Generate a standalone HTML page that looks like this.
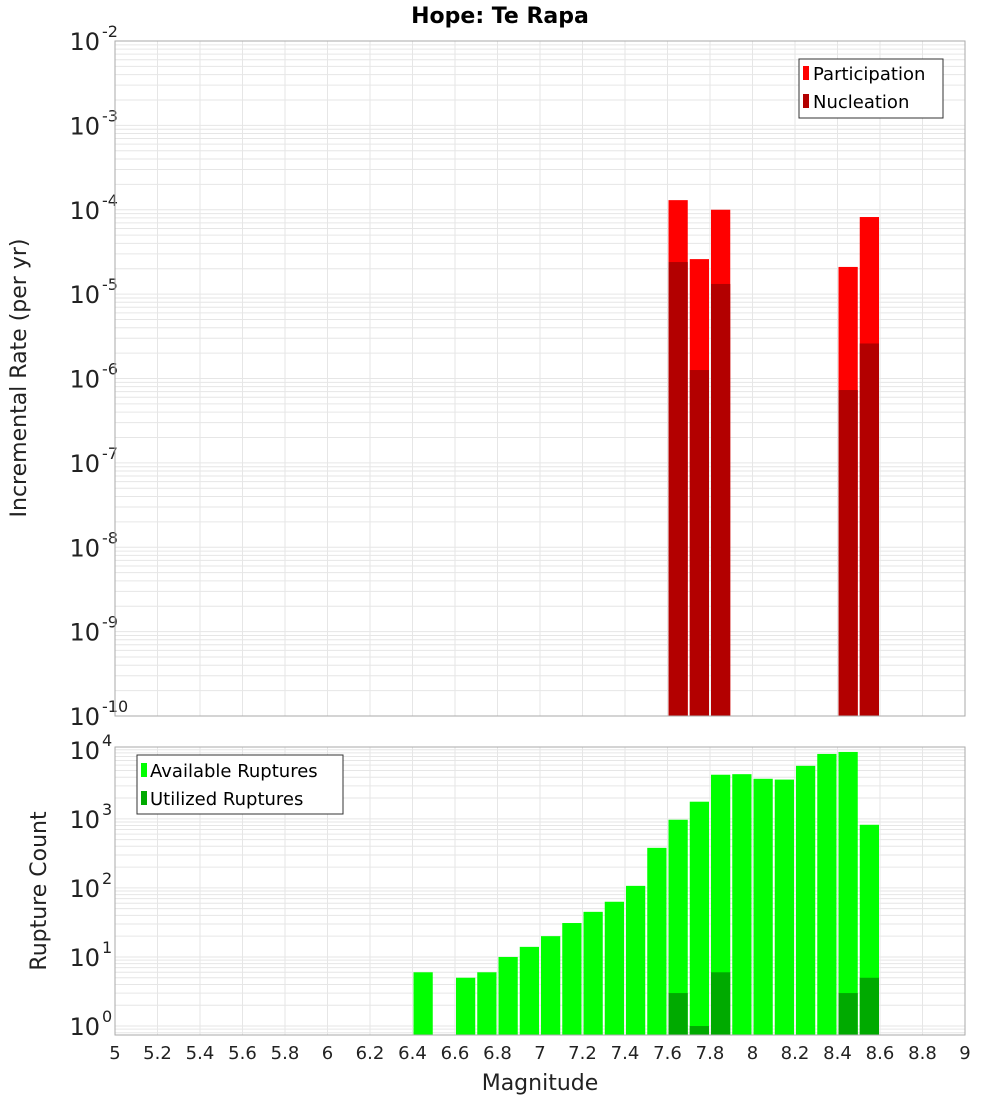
<!DOCTYPE html>
<html><head><meta charset="utf-8"><style>
body{margin:0;background:#fff;font-family:"Liberation Sans","DejaVu Sans",sans-serif}
svg{display:block}
</style></head><body>
<svg id="chart" width="1000" height="1100" xmlns="http://www.w3.org/2000/svg" font-family="DejaVu Sans, Liberation Sans, sans-serif">
<text x="500" y="23" text-anchor="middle" font-size="22" font-weight="bold">Hope: Te Rapa</text>
<g id="top"></g><g id="bot"></g>
<text transform="translate(26,378) rotate(-90)" text-anchor="middle" font-size="22" fill="#222">Incremental Rate (per yr)</text>
<text transform="translate(46,891) rotate(-90)" text-anchor="middle" font-size="22" fill="#222">Rupture Count</text>
<text x="540" y="1090" text-anchor="middle" font-size="22" fill="#222">Magnitude</text>
<g>
<rect x="799" y="59" width="144" height="59" fill="#fff" stroke="#333"/>
<rect x="803" y="66" width="6" height="14" fill="#ff0000"/><text x="813" y="80" font-size="18">Participation</text>
<rect x="803" y="94" width="6" height="14" fill="#b30000"/><text x="813" y="108" font-size="18">Nucleation</text>
</g>
<g>
<rect x="137" y="755" width="206" height="59" fill="#fff" stroke="#333"/>
<rect x="141" y="763" width="6" height="14" fill="#00ff00"/><text x="150" y="777" font-size="18">Available Ruptures</text>
<rect x="141" y="791" width="6" height="14" fill="#00aa00"/><text x="150" y="805" font-size="18">Utilized Ruptures</text>
</g>
</svg>
<script>
const magBins=[7.65,7.75,7.85,8.45,8.55];
const participation=[1.3e-4,2.6e-5,1.0e-4,2.1e-5,8.2e-5];
const nucleation=[2.4e-5,1.26e-6,1.32e-5,7.3e-7,2.6e-6];
const countBins=[6.45,6.65,6.75,6.85,6.95,7.05,7.15,7.25,7.35,7.45,7.55,7.65,7.75,7.85,7.95,8.05,8.15,8.25,8.35,8.45,8.55];
const available=[6,5,6,10,14,20,31,45,63,107,380,970,1770,4350,4430,3800,3700,5850,8700,9300,820];
const utilBins=[7.65,7.75,7.85,8.45,8.55];
const utilized=[3,1,6,3,5];
const xTicks=[5,5.2,5.4,5.6,5.8,6,6.2,6.4,6.6,6.8,7,7.2,7.4,7.6,7.8,8,8.2,8.4,8.6,8.8,9];
const topExps=[-2,-3,-4,-5,-6,-7,-8,-9,-10];
const botExps=[4,3,2,1,0];

const NS='http://www.w3.org/2000/svg';
const L=115,R=965;
const xs=m=>L+(m-5)/4*(R-L);
function mk(p,t,a){const e=document.createElementNS(NS,t);for(const k in a)e.setAttribute(k,a[k]);p.appendChild(e);return e;}
function panel(g,top,bot,lmin,lmax,exps,name){
  const ys=v=>bot-(Math.log10(v)-lmin)/(lmax-lmin)*(bot-top);
  const bg=mk(g,'rect',{x:L,y:top,width:R-L,height:bot-top,fill:'#fff'});
  
  
  for(let d=Math.floor(lmin);d<=Math.ceil(lmax);d++)for(let k=1;k<10;k++){
    const v=k*Math.pow(10,d);const y=ys(v);if(y<top||y>bot)continue;
    const gl=mk(g,'line',{x1:L,x2:R,y1:y,y2:y,stroke:'#e6e6e6','stroke-width':1});
    
    
  }
  xTicks.forEach(t=>{const x=xs(t);
    const gl=mk(g,'line',{x1:x,x2:x,y1:top,y2:bot,stroke:'#e6e6e6'});
    
    });
  exps.forEach(e=>{const y=ys(Math.pow(10,e));
    const t=mk(g,'text',{x:100,y:y+9,'text-anchor':'end','font-size':24,fill:'#222'});
    
    
    t.textContent='10';
    const s=mk(g,'text',{x:102,y:y-4,'font-size':16,fill:'#222'});
    
    
    s.textContent=String(e);});
  return ys;
}
function bar(g,ys,bot,m,v,col,name){
  const x0=xs(m-0.05)+1,x1=xs(m+0.05)-1;const y=ys(v);
  const r=mk(g,'rect',{x:x0,y:y,width:x1-x0,height:bot-y,fill:col});
  
  
}
const gt=document.getElementById('top'),gb=document.getElementById('bot');
const T0=41,T1=716,B0=747,B1=1035;
const yt=panel(gt,T0,T1,-10,-2,topExps,'rate');
magBins.forEach((m,i)=>bar(gt,yt,T1,m,participation[i],'#ff0000','participation-bar'));
magBins.forEach((m,i)=>bar(gt,yt,T1,m,nucleation[i],'#b30000','nucleation-bar'));
const yb=panel(gb,B0,B1,-0.13,4.04,botExps,'count');
countBins.forEach((m,i)=>bar(gb,yb,B1,m,available[i],'#00ff00','available-bar'));
utilBins.forEach((m,i)=>bar(gb,yb,B1,m,utilized[i],'#00aa00','utilized-bar'));
[[T0,T1],[B0,B1]].forEach(([a,b])=>{const f=mk(document.getElementById('chart'),'rect',{x:L,y:a,width:R-L,height:b-a,fill:'none',stroke:'#aaa'});
  
  });
xTicks.forEach(t=>{const tx=mk(gb,'text',{x:xs(t),y:1059,'text-anchor':'middle','font-size':18,fill:'#222'});
  
  
  tx.textContent=String(t);});
</script>
</body></html>
